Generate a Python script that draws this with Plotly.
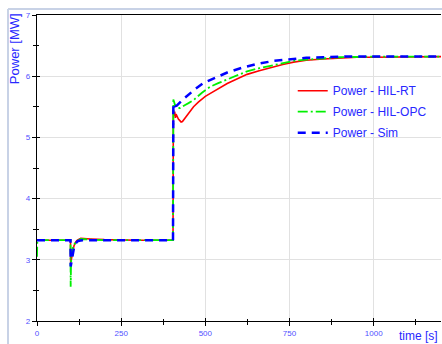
import plotly.graph_objects as go

# ---- data ----
t_rt = [0, 99.5, 100, 101, 103, 106, 110, 115, 120, 130, 140, 160, 200, 250, 300, 350, 404,
        405, 407, 409, 411, 413, 416, 420, 425, 428, 432, 435, 440, 450, 465, 480, 500, 515,
        540, 565, 600, 624, 660, 693, 730, 762, 800, 850, 900, 950, 1000, 1100, 1200]
p_rt = [3.32, 3.32, 2.95, 2.98, 3.05, 3.15, 3.23, 3.29, 3.32, 3.35, 3.35, 3.34, 3.33, 3.32, 3.32, 3.32, 3.32,
        5.45, 5.35, 5.42, 5.32, 5.38, 5.33, 5.30, 5.27, 5.25, 5.26, 5.28, 5.32, 5.39, 5.50, 5.58, 5.67, 5.72,
        5.80, 5.88, 5.97, 6.03, 6.09, 6.14, 6.19, 6.23, 6.26, 6.28, 6.30, 6.31, 6.31, 6.32, 6.32]

t_opc = [0, 1, 99.5, 100, 101, 102, 104, 107, 110, 115, 120, 130, 140, 160, 200, 300, 404,
         405, 407, 410, 415, 420, 425, 430, 440, 450, 465, 490, 515, 540, 565, 595, 624, 660,
         693, 730, 762, 800, 850, 900, 1000, 1100, 1200]
p_opc = [3.05, 3.32, 3.32, 2.56, 2.90, 3.05, 3.13, 3.20, 3.25, 3.29, 3.31, 3.34, 3.34, 3.33, 3.32, 3.32, 3.32,
         5.62, 5.58, 5.53, 5.50, 5.48, 5.48, 5.50, 5.53, 5.56, 5.61, 5.73, 5.83, 5.89, 5.95, 6.02, 6.08, 6.13,
         6.17, 6.21, 6.25, 6.27, 6.29, 6.31, 6.32, 6.32, 6.32]

t_sim = [0, 99.5, 100, 101, 103, 106, 110, 115, 120, 125, 135, 150, 200, 300, 404,
         405, 410, 415, 420, 430, 440, 455, 470, 495, 530, 565, 610, 654, 703, 762, 800,
         850, 900, 1000, 1100, 1200]
p_sim = [3.32, 3.32, 2.89, 2.92, 3.00, 3.10, 3.20, 3.27, 3.30, 3.31, 3.32, 3.32, 3.32, 3.32, 3.32,
         5.56, 5.51, 5.52, 5.55, 5.60, 5.65, 5.72, 5.79, 5.89, 5.98, 6.06, 6.14, 6.20, 6.25, 6.28, 6.30,
         6.31, 6.32, 6.32, 6.32, 6.32]

x_ticks = [0, 250, 500, 750, 1000]
y_ticks = [2, 3, 4, 5, 6, 7]
x_range = [0, 1200]
y_range = [2, 7]

FONT = "Liberation Sans, Arial, sans-serif"
TICKBLUE = "rgb(80,80,255)"
TITLEBLUE = "rgb(40,40,255)"

fig = go.Figure()
fig.add_trace(go.Scatter(x=t_rt, y=p_rt, mode="lines", name="Power - HIL-RT", legendgroup="a",
                         line=dict(color="rgb(255,0,0)", width=1.6)))
fig.add_trace(go.Scatter(x=t_opc, y=p_opc, mode="lines", name="Power - HIL-OPC", legendgroup="b",
                         line=dict(color="rgb(0,240,0)", width=1.8, dash="10px,3px,2px,3px")))
fig.add_trace(go.Scatter(x=t_sim, y=p_sim, mode="lines", name="Power - Sim", legendgroup="c",
                         line=dict(color="rgb(0,0,255)", width=2.5, dash="8px,6px")))
# overlay axes for inside half of the crossing ticks
fig.add_trace(go.Scatter(x=[], y=[], xaxis="x2", yaxis="y2", showlegend=False, hoverinfo="skip"))

axis_common = dict(showline=True, linecolor="black", linewidth=1.2,
                   tickfont=dict(family=FONT, size=8, color=TICKBLUE),
                   gridcolor="rgb(225,225,225)", gridwidth=1, zeroline=False,
                   ticks="outside", tickcolor="black", ticklen=4, tickwidth=1)

fig.update_layout(
    width=442, height=344,
    margin=dict(l=37, r=1, t=15, b=23),
    paper_bgcolor="white", plot_bgcolor="white",
    xaxis=dict(range=x_range, tickvals=x_ticks, mirror=True,
               minor=dict(dtick=125, ticks="outside", ticklen=3, tickcolor="black", showgrid=False),
               **axis_common),
    yaxis=dict(range=y_range, tickvals=y_ticks,
               minor=dict(dtick=0.5, ticks="outside", ticklen=3, tickcolor="black", showgrid=False),
               **axis_common),
    xaxis2=dict(range=x_range, overlaying="x", anchor="y", side="bottom", tickvals=x_ticks,
                ticks="inside", ticklen=3, tickcolor="black", showticklabels=False,
                showgrid=False, showline=False, zeroline=False,
                minor=dict(dtick=125, ticks="inside", ticklen=2, tickcolor="black", showgrid=False)),
    yaxis2=dict(range=y_range, overlaying="y", anchor="x", side="left", tickvals=y_ticks,
                ticks="inside", ticklen=3, tickcolor="black", showticklabels=False,
                showgrid=False, showline=False, zeroline=False,
                minor=dict(dtick=0.5, ticks="inside", ticklen=2, tickcolor="black", showgrid=False)),
    legend=dict(x=0.633, y=0.80, xanchor="left", yanchor="top", bgcolor="rgba(0,0,0,0)",
                font=dict(family=FONT, size=12, color=TITLEBLUE), tracegroupgap=2),
    showlegend=True,
)

fig.add_annotation(text="Power [MW]", xref="paper", yref="paper", x=-0.054, y=0.889,
                   textangle=-90, showarrow=False, xanchor="center", yanchor="middle",
                   font=dict(family=FONT, size=13, color=TITLEBLUE))
fig.add_annotation(text="time [s]", xref="paper", yref="paper", x=0.9455, y=-0.05,
                   showarrow=False, xanchor="center", yanchor="middle",
                   font=dict(family=FONT, size=12, color=TITLEBLUE))

# outer light frame
frame_col = "rgb(200,210,230)"
fig.add_shape(type="line", xref="paper", yref="paper", x0=-0.0718, x1=-0.0718, y0=1.02, y1=-0.08,
              line=dict(color=frame_col, width=2))
fig.add_shape(type="line", xref="paper", yref="paper", x0=-0.0718, x1=1.01, y0=1.02, y1=1.02,
              line=dict(color=frame_col, width=2))

fig.write_html("out.html", config={"displayModeBar": False},
               post_script="document.body.style.margin='0';document.body.style.overflow='hidden';")
